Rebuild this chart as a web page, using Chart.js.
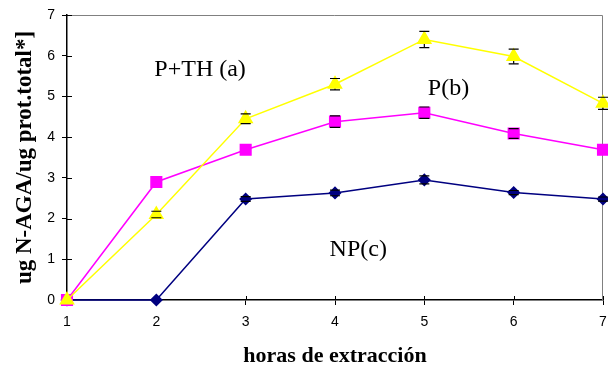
<!DOCTYPE html>
<html><head><meta charset="utf-8">
<script src="https://cdn.jsdelivr.net/npm/chart.js@4/dist/chart.umd.min.js"></script>
<style>html,body{margin:0;padding:0;background:#fff}#wrap{width:608px;height:370px}</style>
</head><body><div id="wrap"><canvas id="c"></canvas></div>
<script>
const hours = ['1','2','3','4','5','6','7'];
const ptH = [0, 2.1, 4.45, 5.3, 6.4, 5.98, 4.83];
const ptHErr = [0, 0.08, 0.12, 0.14, 0.2, 0.18, 0.15];
const pVals = [0, 2.9, 3.69, 4.38, 4.6, 4.09, 3.69];
const pErr = [0, 0, 0, 0.14, 0.14, 0.12, 0];
const npVals = [0, 0, 2.48, 2.63, 2.95, 2.64, 2.48];
const npErr = [0, 0, 0.06, 0.07, 0.1, 0.05, 0.05];
const yTicks = [0,1,2,3,4,5,6,7];
const notes = [
  {text:'P+TH (a)', x:2.49, y:5.65},
  {text:'P(b)', x:5.27, y:5.2},
  {text:'NP(c)', x:4.26, y:1.23}
];

function drawErrors(chart, stems){
  const ctx = chart.ctx, ys = chart.scales.y;
  ctx.save();
  ctx.strokeStyle = '#000'; ctx.lineWidth = 1.2;
  chart.data.datasets.forEach((ds,i)=>{
    const meta = chart.getDatasetMeta(i);
    meta.data.forEach((pt,j)=>{
      const e = ds.errors[j]; if(!e) return;
      const top = ys.getPixelForValue(ds.data[j]+e), bot = ys.getPixelForValue(ds.data[j]-e);
      ctx.beginPath();
      if (stems) { ctx.moveTo(pt.x, top); ctx.lineTo(pt.x, bot); }
      else {
        ctx.moveTo(pt.x-5, top); ctx.lineTo(pt.x+5, top);
        ctx.moveTo(pt.x-5, bot); ctx.lineTo(pt.x+5, bot);
      }
      ctx.stroke();
    });
  });
  ctx.restore();
}

const framePlugin = {
  id:'frame',
  beforeDatasetsDraw(chart){
    const {ctx, chartArea:a} = chart;
    const xs = chart.scales.x, ys = chart.scales.y;
    ctx.save();
    ctx.strokeStyle = '#808080'; ctx.lineWidth = 1;
    ctx.beginPath();
    ctx.moveTo(a.left, a.top+0.5); ctx.lineTo(a.right-0.5, a.top+0.5); ctx.lineTo(a.right-0.5, a.bottom);
    ctx.stroke();
    ctx.strokeStyle = '#000'; ctx.lineWidth = 1;
    ctx.beginPath();
    xs.ticks.forEach((t,i)=>{ const px = Math.round(xs.getPixelForTick(i))+0.5; ctx.moveTo(px, a.bottom); ctx.lineTo(px, a.bottom-4); });
    yTicks.forEach(v=>{ const py = Math.round(ys.getPixelForValue(v))+0.5; ctx.moveTo(a.left, py); ctx.lineTo(a.left+5, py); });
    ctx.stroke();
    ctx.restore();
    drawErrors(chart, true);
  },
  afterDatasetsDraw(chart){
    drawErrors(chart, false);
  },
  afterDraw(chart){
    const ctx = chart.ctx, xs = chart.scales.x, ys = chart.scales.y;
    ctx.save();
    ctx.font = '24px "Liberation Serif", "Times New Roman", serif';
    ctx.fillStyle = '#000'; ctx.textAlign = 'center'; ctx.textBaseline = 'middle';
    notes.forEach(n=>{
      const px = xs.left + (n.x-1)/(hours.length-1)*(xs.right-xs.left);
      ctx.fillText(n.text, px, ys.getPixelForValue(n.y));
    });
    ctx.restore();
  }
};

new Chart(document.getElementById('c'), {
  type:'line',
  data:{labels:hours, datasets:[
    {label:'P+TH', data:ptH, errors:ptHErr, borderColor:'#FFFF00', backgroundColor:'#FFFF00', borderWidth:1.5, pointStyle:'triangle', pointRadius:7.5, pointHoverRadius:7.5},
    {label:'P', data:pVals, errors:pErr, borderColor:'#FF00FF', backgroundColor:'#FF00FF', borderWidth:1.5, pointStyle:'rect', pointRadius:7.5, pointHoverRadius:7.5},
    {label:'NP', data:npVals, errors:npErr, borderColor:'#000080', backgroundColor:'#000080', borderWidth:1.5, pointStyle:'rectRot', pointRadius:5.5, pointHoverRadius:5.5}
  ]},
  options:{
    responsive:true, maintainAspectRatio:false, animation:false,
    layout:{autoPadding:false, padding:{top:15, right:5, left:0, bottom:0}},
    plugins:{legend:{display:false}, tooltip:{enabled:false}},
    elements:{line:{tension:0}, point:{borderWidth:0}},
    clip:false,
    scales:{
      x:{
        type:'category', offset:false,
        grid:{display:true, drawOnChartArea:false, color:'#000', tickLength:5},
        border:{color:'#000', width:1.5},
        ticks:{color:'#000', font:{family:'"Liberation Sans", Arial, sans-serif', size:14}, padding:9, maxRotation:0},
        title:{display:true, text:'horas de extracción', color:'#000', font:{family:'"Liberation Serif", "Times New Roman", serif', size:22, weight:'bold'}, padding:{top:0, bottom:0}},
        afterFit(s){ s.height = 70; s.paddingRight = 0; s.paddingLeft = 0; }
      },
      y:{
        min:0, max:7,
        afterBuildTicks(s){ s.ticks = yTicks.map(v=>({value:v})); },
        grid:{display:true, drawOnChartArea:false, color:'#000', tickLength:5},
        border:{color:'#000', width:1.5},
        ticks:{color:'#000', font:{family:'"Liberation Sans", Arial, sans-serif', size:14}, padding:7},
        title:{display:true, text:'ug N-AGA/ug prot.total*]', color:'#000', font:{family:'"Liberation Serif", "Times New Roman", serif', size:23, weight:'bold'}, padding:{top:11, bottom:0}},
        afterFit(s){ s.width = 67; s.paddingTop = 0; s.paddingBottom = 0; }
      }
    }
  },
  plugins:[framePlugin]
});
</script></body></html>
